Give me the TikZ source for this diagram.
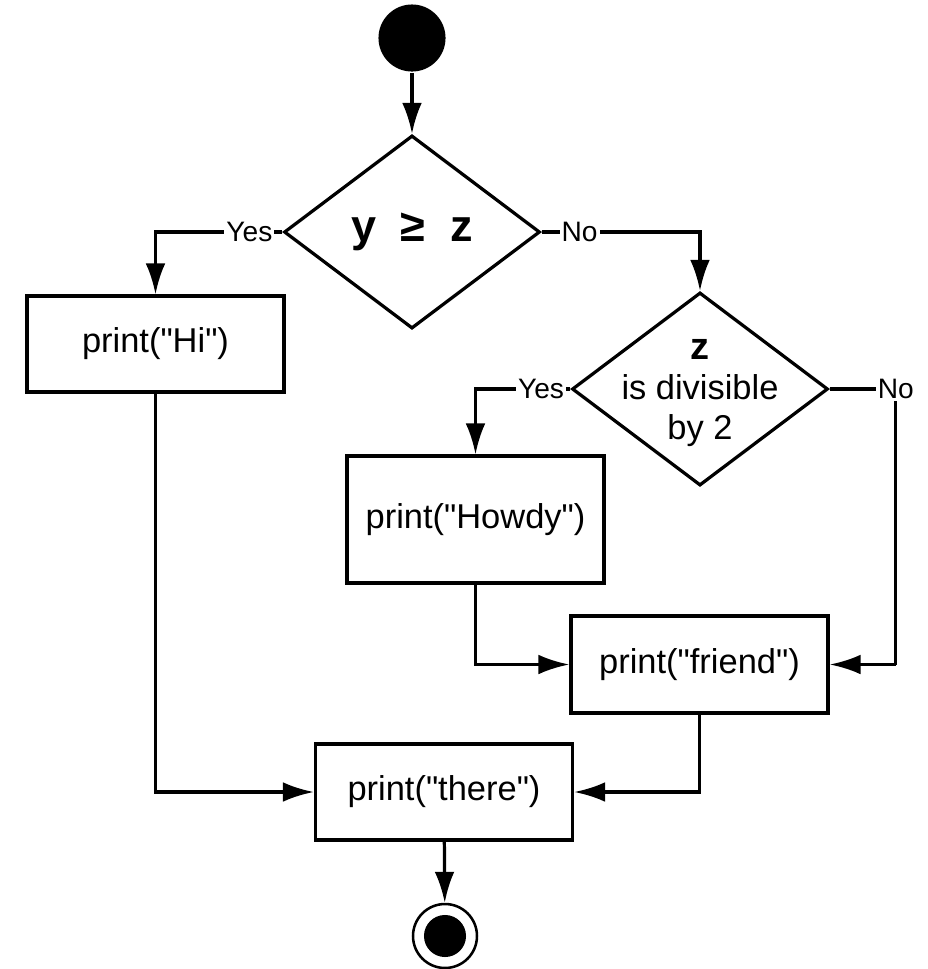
\documentclass[tikz,border=0pt]{standalone}
\usepackage{fontspec}
\setmainfont{Liberation Sans}[Ligatures=TeXOff]
\usetikzlibrary{shapes.geometric,arrows.meta}
\begin{document}
\begin{tikzpicture}[x=0.025cm, y=-0.025cm, line width=2.3pt]
      \tikzstyle{box}=[rectangle, draw, minimum width=182.8pt, font=\fontsize{24.5}{29}\selectfont]
      \tikzstyle{decision}=[diamond, draw, inner sep=0pt, minimum width=182pt, minimum height=137.3pt]
      \tikzstyle{lbl}=[fill=white, inner sep=1.5pt, font=\fontsize{20}{24}\selectfont]
      \tikzstyle{flow}=[-{Latex[length=22pt, width=14pt]}]

      \useasboundingbox (0,0) rectangle (928,969);

      % start and the two tests
      \path (412,38) node[circle, fill, inner sep=0pt, minimum size=47.7pt] (start) {};
      \path (412,232) node[decision, font=\fontsize{32}{36}\selectfont\bfseries] (d1) {y\hspace{0.55em}≥\hspace{0.55em}z};
      \path (700,389) node[decision] (d2) {};
      \node[align=center, font=\fontsize{24.5}{28.5}\selectfont] (d2text) at ([yshift=-3pt]d2)
        {\fontsize{27}{28.5}\selectfont\textbf{z}\\is divisible\\by 2};

      % print statements
      \path (155.5,344) node[box, minimum height=68.3pt] (hi) {print("Hi")};
      \path (475.5,519.5) node[box, minimum height=90.3pt] (howdy) {print("Howdy")};
      \path (699.5,664.5) node[box, minimum height=69pt] (friend) {print("friend")};
      \path (444,792) node[box, minimum height=68.3pt] (there) {print("there")};

      % stop
      \path (445,936) node[circle, draw, line width=1.8pt, inner sep=0pt, minimum size=45.5pt] (stop) {};
      \node[circle, fill, inner sep=0pt, minimum size=29.9pt] (stopdot) at (stop) {};

      \draw[flow] (start) -- (d1);
      \draw[flow] (d1.west) -| node[lbl, pos=0.13] {Yes} (hi);
      \draw[flow] (d1.east) -| node[lbl, pos=0.12] {No} (d2);
      \draw[flow] (d2.west) -| node[lbl, pos=0.155] {Yes} (howdy);
      \draw (d2.east) -| node[lbl, pos=0.5] {No} ([xshift=47pt]friend.east);
      \draw[flow] ([xshift=47pt]friend.east) -- (friend.east);
      \draw[flow] (howdy) |- (friend);
      \draw[flow] (friend) |- (there);
      \draw[flow] (hi) |- (there);
      \draw[flow] (there) -- (stop);
\end{tikzpicture}
\end{document}
